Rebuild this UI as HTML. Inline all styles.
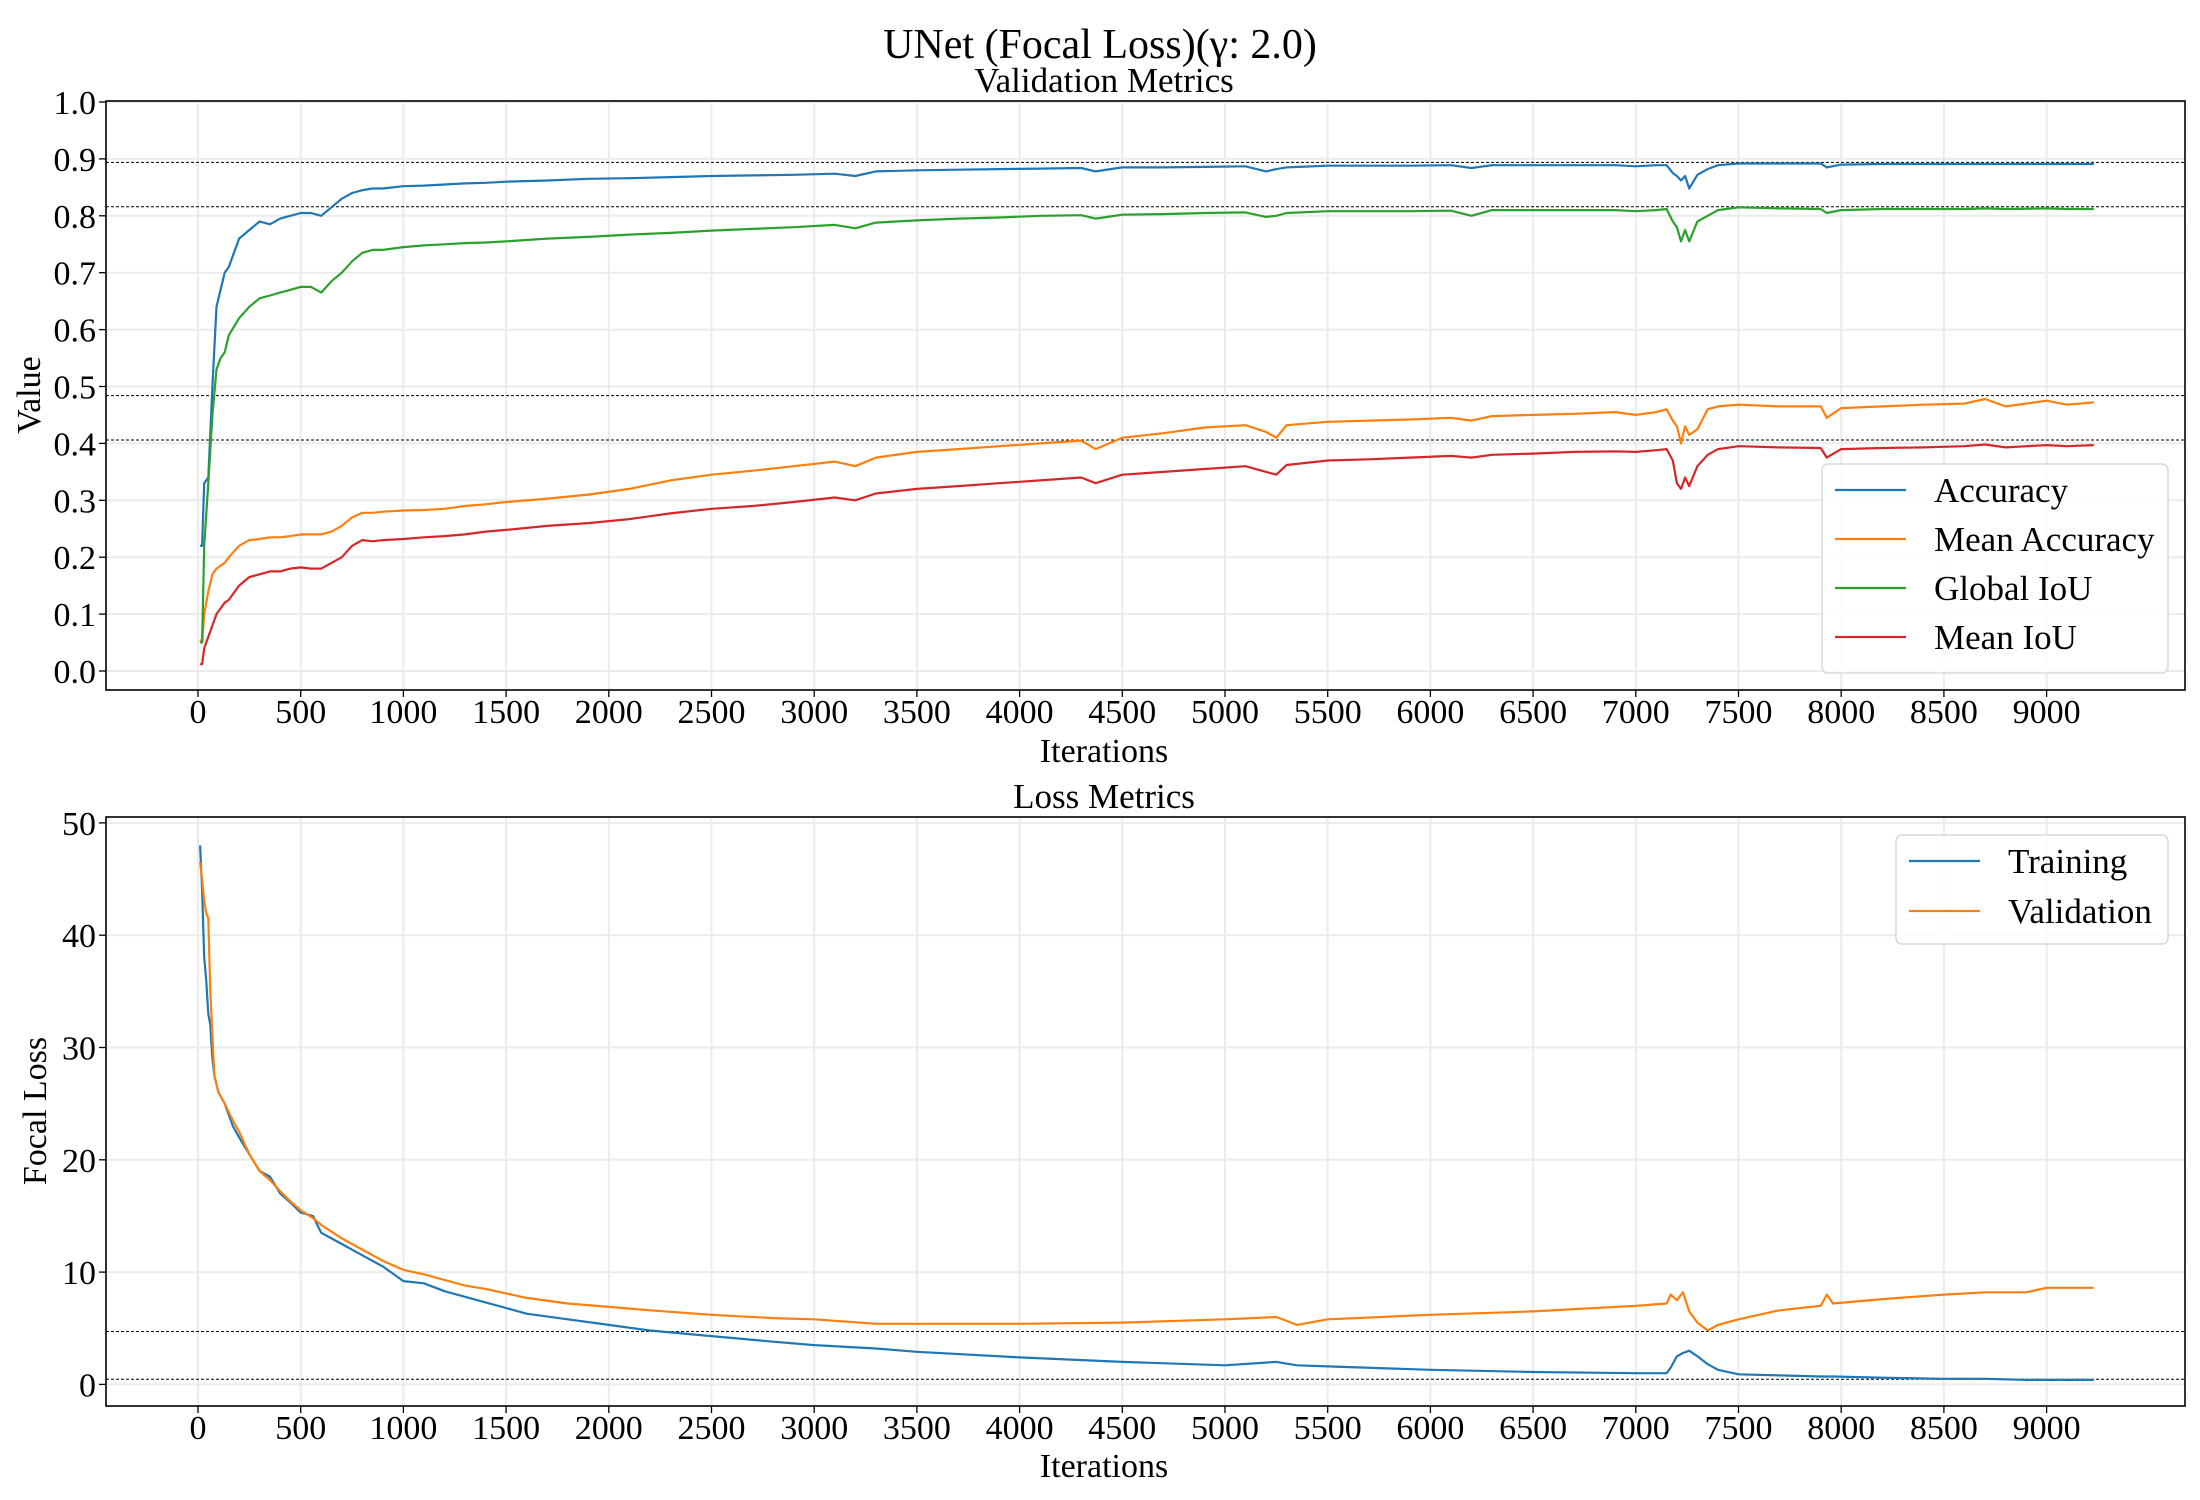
<!DOCTYPE html>
<html><head><meta charset="utf-8"><style>
html,body{margin:0;padding:0;background:#fff}
svg{display:block;font-family:"Liberation Serif","DejaVu Serif",serif}
</style></head><body>
<svg id="fig" width="2200" height="1500" viewBox="0 0 2200 1500" xmlns="http://www.w3.org/2000/svg">
<rect width="2200" height="1500" fill="#fff"/>
<text x="1100" y="58" font-size="42" text-anchor="middle">UNet (Focal Loss)(γ: 2.0)</text>
<text x="1104" y="92" font-size="35" text-anchor="middle">Validation Metrics</text>
<text x="1104" y="808" font-size="35" text-anchor="middle">Loss Metrics</text>
<text x="1104" y="762" font-size="34" text-anchor="middle">Iterations</text>
<text x="1104" y="1477" font-size="34" text-anchor="middle">Iterations</text>
<text x="0" y="0" font-size="34" text-anchor="middle" transform="translate(40,395) rotate(-90)">Value</text>
<text x="0" y="0" font-size="34" text-anchor="middle" transform="translate(46,1111) rotate(-90)">Focal Loss</text>
<g id="top"></g>
<g id="bot"></g>
</svg>
<script>
const iters = [10,20,30,50,70,90,110,130,150,200,250,300,350,400,450,500,550,600,650,700,750,800,850,900,1000,1100,1200,1300,1400,1500,1700,1900,2100,2300,2500,2700,2900,3100,3200,3300,3500,3700,3900,4100,4300,4370,4500,4700,4900,5100,5200,5250,5300,5500,5700,5900,6100,6200,6300,6500,6700,6900,7000,7100,7150,7180,7200,7220,7240,7260,7300,7350,7400,7500,7700,7900,7930,8000,8200,8400,8600,8700,8800,9000,9100,9230];
const accuracy = [.22,.22,.33,.34,.50,.64,.67,.70,.71,.76,.775,.79,.785,.795,.80,.805,.805,.80,.815,.83,.84,.845,.848,.848,.852,.853,.855,.857,.858,.86,.862,.865,.866,.868,.870,.871,.872,.874,.870,.878,.880,.881,.882,.883,.884,.878,.885,.885,.886,.887,.878,.882,.885,.888,.888,.888,.889,.884,.889,.889,.889,.889,.887,.889,.889,.875,.870,.862,.870,.848,.872,.882,.889,.892,.892,.892,.885,.890,.891,.891,.891,.891,.891,.891,.891,.891];
const meanAccuracy = [.055,.05,.10,.14,.17,.18,.185,.19,.20,.22,.23,.232,.235,.235,.237,.24,.24,.24,.245,.255,.27,.278,.278,.28,.282,.283,.285,.29,.293,.297,.303,.31,.32,.335,.345,.352,.36,.368,.36,.375,.385,.39,.395,.40,.405,.39,.41,.418,.428,.432,.42,.41,.432,.438,.44,.442,.445,.44,.448,.45,.452,.455,.45,.455,.46,.44,.43,.40,.43,.415,.425,.46,.465,.468,.465,.465,.445,.462,.465,.468,.47,.478,.465,.475,.468,.472];
const globalIoU = [.05,.05,.22,.33,.45,.53,.55,.56,.59,.62,.64,.655,.66,.665,.67,.675,.675,.665,.685,.70,.72,.735,.74,.74,.745,.748,.75,.752,.753,.755,.76,.763,.767,.77,.774,.777,.78,.784,.778,.788,.792,.795,.797,.80,.801,.795,.802,.803,.805,.806,.798,.80,.805,.808,.808,.808,.809,.80,.81,.81,.81,.81,.808,.81,.812,.79,.78,.755,.775,.755,.79,.80,.81,.815,.813,.812,.805,.81,.812,.812,.812,.813,.812,.813,.812,.812];
const meanIoU = [.012,.012,.04,.06,.08,.10,.11,.12,.125,.15,.165,.17,.175,.175,.18,.182,.18,.18,.19,.20,.22,.23,.228,.23,.232,.235,.237,.24,.245,.248,.255,.26,.267,.277,.285,.29,.297,.305,.30,.312,.32,.325,.33,.335,.34,.33,.345,.35,.355,.36,.35,.345,.362,.37,.372,.375,.378,.375,.38,.382,.385,.386,.385,.388,.39,.37,.33,.32,.34,.325,.36,.38,.39,.395,.393,.392,.375,.39,.392,.393,.395,.398,.393,.397,.395,.397];
const refLinesTop = [0.894,0.816,0.484,0.406];
const lossIters = [10,20,30,40,50,60,70,80,100,130,170,200,250,300,350,400,450,500,560,600,700,800,900,1000,1100,1200,1300,1400,1500,1600,1800,2000,2200,2500,2800,3000,3300,3500,4000,4500,5000,5250,5350,5500,6000,6500,7000,7150,7170,7200,7230,7260,7300,7350,7400,7500,7700,7900,7930,7960,8200,8500,8700,8900,9000,9230];
const trainingLoss = [48,44,38,36,33,32,29,27.5,26,25,23,22,20.5,19,18.5,17,16.2,15.3,15,13.5,12.5,11.5,10.5,9.2,9,8.3,7.8,7.3,6.8,6.3,5.8,5.3,4.8,4.3,3.8,3.5,3.2,2.9,2.4,2.0,1.7,2.0,1.7,1.6,1.3,1.1,1.0,1.0,1.5,2.5,2.8,3.0,2.5,1.8,1.3,0.9,0.8,0.7,0.7,0.7,0.6,0.5,0.5,0.4,0.4,0.4];
const validationLoss = [46.5,45,43,42,41.5,35,31,27.5,26,25,23.5,22.5,20.5,19,18.2,17.2,16.3,15.5,14.8,14.2,13,12,11,10.2,9.8,9.3,8.8,8.5,8.1,7.7,7.2,6.9,6.6,6.2,5.9,5.8,5.4,5.4,5.4,5.5,5.8,6.0,5.3,5.8,6.2,6.5,7.0,7.2,8.0,7.5,8.2,6.5,5.5,4.8,5.3,5.8,6.6,7.0,8.0,7.2,7.6,8.0,8.2,8.2,8.6,8.6];
const refLinesBot = [4.71,0.46];
const xTicks = [0,500,1000,1500,2000,2500,3000,3500,4000,4500,5000,5500,6000,6500,7000,7500,8000,8500,9000];
const yTicksTop = [0,0.1,0.2,0.3,0.4,0.5,0.6,0.7,0.8,0.9,1.0];
const yTicksBot = [0,10,20,30,40,50];

const NS='http://www.w3.org/2000/svg';
const L=106,R=2185;
const xs=v=>198+v*102.7/500;
const yTop=v=>671-569*v;
const yBot=v=>1384.4-11.23*v;
function mk(p,tag,at){const e=document.createElementNS(NS,tag);for(const k in at)e.setAttribute(k,at[k]);p.appendChild(e);return e;}

function axes(g,T,B,ys,yt,fmt,name){
  for(const t of xTicks){
    const l=mk(g,'line',{x1:xs(t),x2:xs(t),y1:T,y2:B,stroke:'#ebebeb','stroke-width':2});
    
    
    mk(g,'line',{x1:xs(t),x2:xs(t),y1:B,y2:B+7,stroke:'#000','stroke-width':1.3});
    const tx=mk(g,'text',{x:xs(t),y:B+33,'font-size':34,'text-anchor':'middle'});tx.textContent=t;
    
    
  }
  for(const t of yt){
    const l=mk(g,'line',{x1:L,x2:R,y1:ys(t),y2:ys(t),stroke:'#ebebeb','stroke-width':2});
    
    
    mk(g,'line',{x1:L-7,x2:L,y1:ys(t),y2:ys(t),stroke:'#000','stroke-width':1.3});
    const tx=mk(g,'text',{x:L-10,y:ys(t)+12,'font-size':34,'text-anchor':'end'});tx.textContent=fmt(t);
    
    
  }
}
function refs(g,vals,ys,name){
  for(const v of vals){const l=mk(g,'line',{x1:L,x2:R,y1:ys(v),y2:ys(v),stroke:'#000','stroke-width':1,'stroke-dasharray':'3,2'});
    
    }
}
function series(g,xv,yv,ys,col,name){
  const d=xv.map((x,i)=>(i?'L':'M')+xs(x).toFixed(1)+','+ys(yv[i]).toFixed(1)).join('');
  const p=mk(g,'path',{d:d,fill:'none',stroke:col,'stroke-width':2.2,'stroke-linejoin':'round'});
  
  
}
function frame(g,T,B,name){const r=mk(g,'rect',{x:L,y:T,width:R-L,height:B-T,fill:'none',stroke:'#000','stroke-width':1.6});
  
  }
function legend(g,x,y,w,h,items,name){
  const r=mk(g,'rect',{x:x,y:y,width:w,height:h,rx:6,fill:'#fff','fill-opacity':0.8,stroke:'#d9d9d9','stroke-width':1.5});
  
  
  items.forEach((it,i)=>{const cy=y+26+i*(it[2]);
    mk(g,'line',{x1:x+13,x2:x+84,y1:cy,y2:cy,stroke:it[1],'stroke-width':2.2});
    const t=mk(g,'text',{x:x+112,y:cy+12,'font-size':35});t.textContent=it[0];
    
    });
}
const gt=document.getElementById('top');
axes(gt,101,690,yTop,yTicksTop,v=>v.toFixed(1),'top');
refs(gt,refLinesTop,yTop,'top');
series(gt,iters,accuracy,yTop,'#1f77b4','accuracy-line');
series(gt,iters,meanAccuracy,yTop,'#ff7f0e','mean-accuracy-line');
series(gt,iters,globalIoU,yTop,'#2ca02c','global-iou-line');
series(gt,iters,meanIoU,yTop,'#d62728','mean-iou-line');
frame(gt,101,690,'top');
legend(gt,1822,464,346,209,[['Accuracy','#1f77b4',49],['Mean Accuracy','#ff7f0e',49],['Global IoU','#2ca02c',49],['Mean IoU','#d62728',49]],'top-legend');
const gb=document.getElementById('bot');
axes(gb,817,1406,yBot,yTicksBot,v=>String(v),'bottom');
refs(gb,refLinesBot,yBot,'bottom');
series(gb,lossIters,trainingLoss,yBot,'#1f77b4','training-loss-line');
series(gb,lossIters,validationLoss,yBot,'#ff7f0e','validation-loss-line');
frame(gb,817,1406,'bottom');
legend(gb,1896,835,272,109,[['Training','#1f77b4',50],['Validation','#ff7f0e',50]],'bottom-legend');
</script>
</body></html>
